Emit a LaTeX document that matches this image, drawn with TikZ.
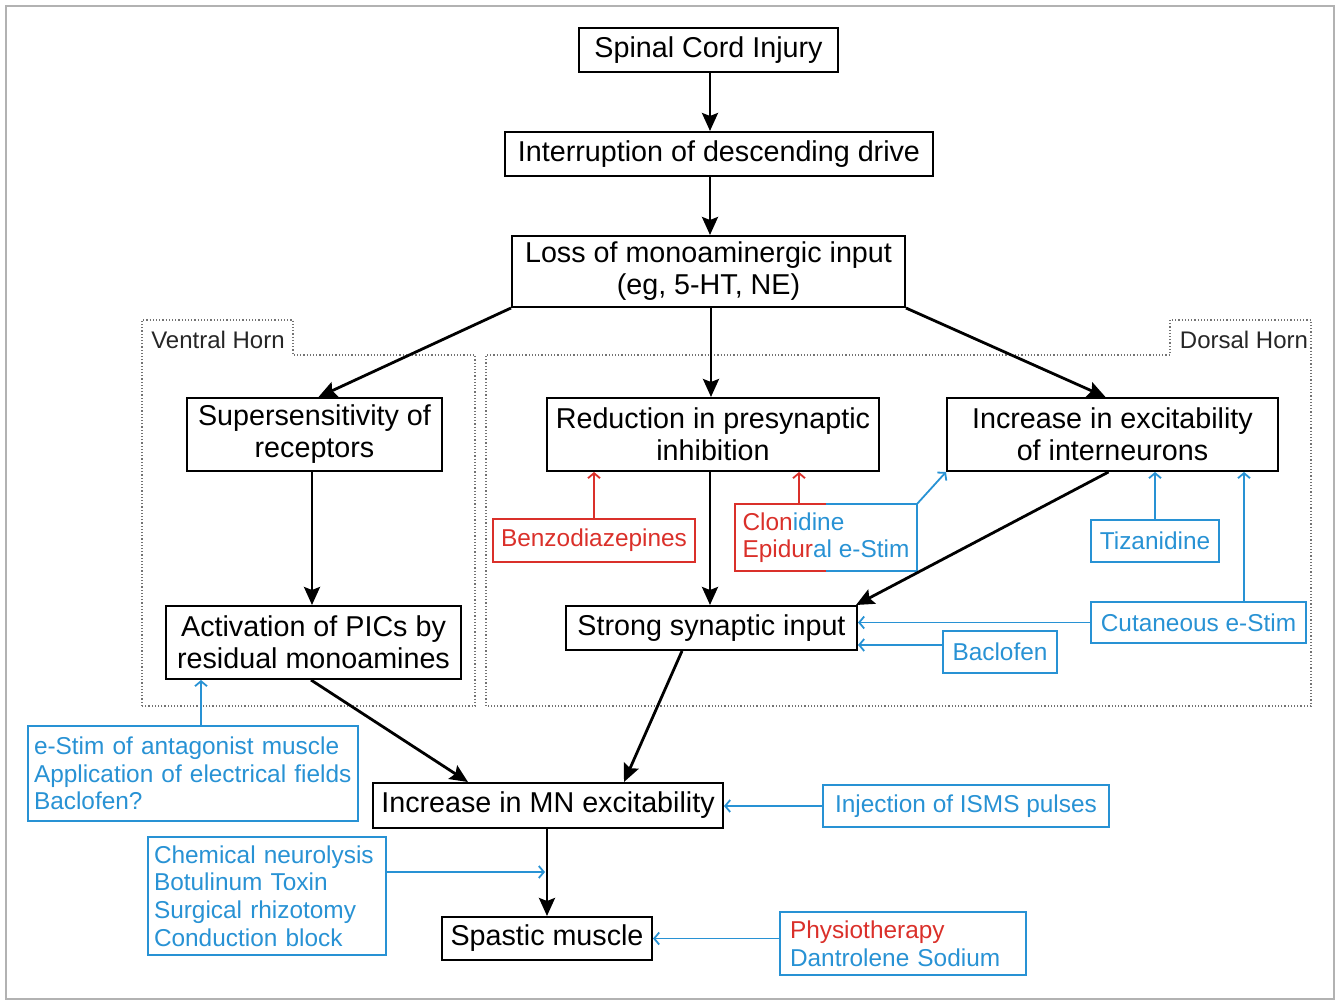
\documentclass[tikz,border=0pt]{standalone}
\usepackage{fontspec}
\setmainfont{Liberation Sans}
\usetikzlibrary{arrows.meta, positioning, calc}
\definecolor{drugblue}{RGB}{40,146,212}
\definecolor{drugred}{RGB}{218,48,42}
\tikzstyle{stage} = [rectangle, draw=black, line width=1pt, inner sep=2pt, text centered, align=center, font=\fontsize{14.35}{16}\selectfont]
\tikzstyle{therapy} = [rectangle, draw=drugblue, line width=0.8pt, inner sep=2pt, text=drugblue, align=center, font=\fontsize{12.2}{13.8}\selectfont]
\tikzstyle{redtherapy} = [therapy, draw=drugred, text=drugred]
\tikzstyle{therapylist} = [therapy, align=left, inner xsep=3pt]
\tikzstyle{horn} = [draw=black!55, densely dotted, line width=0.6pt]
\tikzstyle{hornlabel} = [text=black!85, font=\fontsize{12}{14}\selectfont]

\begin{document}
\begin{tikzpicture}[x=0.5pt, y=-0.5pt, node distance=52pt]
\useasboundingbox (0,0) rectangle (1341,1001);
\draw[black!30, line width=1pt] (6,6) rectangle (1334,999);

% horn regions
\draw[horn] (142,706) -- (142,320) -- (293,320) -- (293,355) -- (475,355) -- (475,706) -- cycle;
\draw[horn] (486,706) -- (486,355) -- (1170,355) -- (1170,320) -- (1311,320) -- (1311,706) -- cycle;
\node (ventral) [hornlabel] at (218,340) {Ventral Horn};
\node (dorsal) [hornlabel] at (1244,340) {Dorsal Horn};

% main chain
\node (sci) [stage, minimum width=129.5pt, minimum height=22pt] at (708.5,50) {Spinal Cord Injury};
\node (intr) [stage, below of=sci, xshift=5.25pt, minimum width=214pt, minimum height=22pt] {Interruption of descending drive};
\node (loss) [stage, minimum width=196.5pt, minimum height=35.5pt] at (708.5,271.5) {Loss of monoaminergic input\\(eg, 5-HT, NE)};
\node (super) [stage, minimum width=127.5pt, minimum height=36.5pt] at (314.5,434.5) {Supersensitivity of\\receptors};
\node (reduc) [stage, minimum width=166pt, minimum height=36.5pt] at (713,434.5) {Reduction in presynaptic\\inhibition};
\node (incr) [stage, minimum width=165.5pt, minimum height=36.5pt] at (1112.5,434.5) {Increase in excitability\\of interneurons};
\node (pics) [stage, minimum width=147.5pt, minimum height=36.5pt] at (313.5,642.5) {Activation of PICs by\\residual monoamines};
\node (strong) [stage, minimum width=145.5pt, minimum height=22pt] at (711.5,628) {Strong synaptic input};
\node (mn) [stage, minimum width=175pt, minimum height=22.5pt] at (548,805.5) {Increase in MN excitability};
\node (spastic) [stage, minimum width=105pt, minimum height=21.5pt] at (547,938.5) {Spastic muscle};

% treatments
\node (benzo) [redtherapy, minimum width=101pt, minimum height=21.5pt] at (594,540.5) {Benzodiazepines};
\node (clon) [therapylist, draw=none, minimum width=90pt, minimum height=32.5pt] at (826,537.5) {\textcolor{drugred}{Clon}\textcolor{drugblue}{idine}\\\textcolor{drugred}{Epidur}\textcolor{drugblue}{al e-Stim}};
\node (tiza) [therapy, minimum width=64pt, minimum height=21pt] at (1155,541) {Tizanidine};
\node (cutan) [therapy, minimum width=107.5pt, minimum height=20.5pt] at (1198.5,622.5) {Cutaneous e-Stim};
\node (bacl) [therapy, minimum width=57pt, minimum height=21pt] at (1000,652) {Baclofen};
\node (estim) [therapylist, text width=159pt, minimum height=47.5pt] at (193,773.5) {e-Stim of antagonist muscle\\Application of electrical fields\\Baclofen?};
\node (isms) [therapy, minimum width=143pt, minimum height=21pt] at (966,806) {Injection of ISMS pulses};
\node (chem) [therapylist, text width=113pt, minimum height=59pt] at (267,896) {Chemical neurolysis\\Botulinum Toxin\\Surgical rhizotomy\\Conduction block};
\node (physio) [therapylist, inner xsep=5pt, text width=113pt, minimum height=31.5pt] at (903,943.5) {\textcolor{drugred}{Physiotherapy}\\Dantrolene Sodium};
\coordinate (hit) at (545,872);

\draw[drugred, line width=0.8pt] (clon.north) -- (clon.north west) -- (clon.south west) -- (clon.south);
\draw[drugblue, line width=0.8pt] (clon.north) -- (clon.north east) -- (clon.south east) -- (clon.south);

\draw[line width=1.4pt, -{Stealth[length=9pt, width=8pt, inset=1.5pt]}] ([xshift=0.75pt]sci.south) -- ([xshift=0.75pt]sci.south |- intr.north);
\draw[line width=1.4pt, -{Stealth[length=9pt, width=8pt, inset=1.5pt]}] ([xshift=0.75pt]loss.north |- intr.south) -- ([xshift=0.75pt]loss.north);
\draw[line width=1.4pt, -{Stealth[length=9pt, width=8pt, inset=1.5pt]}] (loss.south west) -- ([xshift=2pt]super.north);
\draw[line width=1.4pt, -{Stealth[length=9pt, width=8pt, inset=1.5pt]}] ([xshift=1.25pt]loss.south) -- ([xshift=1.25pt]loss.south |- reduc.north);
\draw[line width=1.4pt, -{Stealth[length=9pt, width=8pt, inset=1.5pt]}] (loss.south east) -- ([xshift=-3.5pt]incr.north);
\draw[line width=1.4pt, -{Stealth[length=9pt, width=8pt, inset=1.5pt]}] ([xshift=-1.25pt]super.south) -- ([xshift=-1.25pt]super.south |- pics.north);
\draw[line width=1.4pt, -{Stealth[length=9pt, width=8pt, inset=1.5pt]}] ([xshift=-1.5pt]reduc.south) -- ([xshift=-1.5pt]reduc.south |- strong.north);
\draw[line width=1.4pt, -{Stealth[length=9pt, width=8pt, inset=1.5pt]}] ([xshift=-2pt]incr.south) -- ([xshift=-1pt]strong.north east);
\draw[line width=1.4pt, -{Stealth[length=9pt, width=8pt, inset=1.5pt]}] ([xshift=-1.25pt]pics.south) -- ([xshift=-40pt]mn.north);
\draw[line width=1.4pt, -{Stealth[length=9pt, width=8pt, inset=1.5pt]}] ([xshift=-14.75pt]strong.south) -- ([xshift=38pt]mn.north);
\draw[line width=1.4pt, -{Stealth[length=9pt, width=8pt, inset=1.5pt]}] ([xshift=-0.5pt]mn.south) -- ([xshift=-0.5pt]mn.south |- spastic.north);

\draw[drugred, line width=0.9pt, -{Straight Barb[length=2.5pt, width=6pt]}] (benzo.north) -- (benzo.north |- reduc.south);
\draw[drugred, line width=0.9pt, -{Straight Barb[length=2.5pt, width=6pt]}] ([xshift=-13.5pt]clon.north) -- ([xshift=-13.5pt]clon.north |- reduc.south);
\draw[drugblue, line width=0.9pt, -{Straight Barb[length=2.5pt, width=6pt]}] (clon.north east) -- (incr.south west);
\draw[drugblue, line width=0.9pt, -{Straight Barb[length=2.5pt, width=6pt]}] (tiza.north) -- (tiza.north |- incr.south);
\draw[drugblue, line width=0.9pt, -{Straight Barb[length=2.5pt, width=6pt]}] ([xshift=22.75pt]cutan.north) -- ([xshift=22.75pt]cutan.north |- incr.south);
\draw[drugblue, line width=0.9pt, -{Straight Barb[length=2.5pt, width=6pt]}] (cutan.west) -- (cutan.west -| strong.east);
\draw[drugblue, line width=0.9pt, -{Straight Barb[length=2.5pt, width=6pt]}] ([yshift=3.5pt]bacl.west) -- ([yshift=3.5pt]bacl.west -| strong.east);
\draw[drugblue, line width=0.9pt, -{Straight Barb[length=2.5pt, width=6pt]}] ([xshift=4pt]estim.north) -- ([xshift=4pt]estim.north |- pics.south);
\draw[drugblue, line width=0.9pt, -{Straight Barb[length=2.5pt, width=6pt]}] (isms.west) -- (isms.west -| mn.east);
\draw[drugblue, line width=0.9pt, -{Straight Barb[length=2.5pt, width=6pt]}] (chem.east |- hit) -- (hit);
\draw[drugblue, line width=0.9pt, -{Straight Barb[length=2.5pt, width=6pt]}] (physio.west |- spastic.east) -- (spastic.east);
\end{tikzpicture}
\end{document}
